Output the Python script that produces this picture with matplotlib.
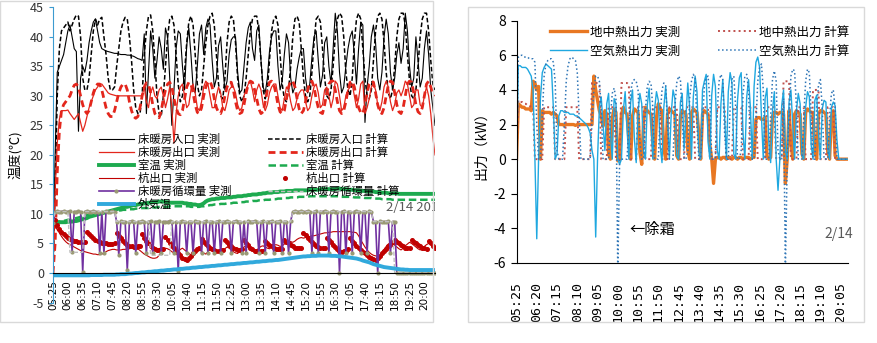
"""
Floor heating trial 2/14: water / room temperatures (left) and heat source output (right)
"""
import numpy as np
import matplotlib.pyplot as plt
from matplotlib.patches import Rectangle

plt.rcParams['font.family'] = ['Noto Sans CJK JP', 'DejaVu Sans']
plt.rcParams['axes.unicode_minus'] = False

# ---- 5 min samples, 05:25 .. 20:25 ----
left_ticks = ['05:25', '06:00', '06:35', '07:10', '07:45', '08:20', '08:55', '09:30', '10:05',
              '10:40', '11:15', '11:50', '12:25', '13:00', '13:35', '14:10', '14:45', '15:20',
              '15:55', '16:30', '17:05', '17:40', '18:15', '18:50', '19:25', '20:00']
right_ticks = ['05:25', '06:20', '07:15', '08:10', '09:05', '10:00', '10:55', '11:50', '12:45',
               '13:40', '14:35', '15:30', '16:25', '17:20', '18:15', '19:10', '20:05']

# floor heating inlet, measured / calculated
inlet_meas = [0, 20, 34, 35, 36, 37, 39, 41, 42, 40, 38, 37.5,
              24, 33, 35, 34, 36, 39, 41, 42.5, 43, 41, 39, 38,
              37.8, 37.6, 37.5, 37.4, 37.3, 37.2, 37.2, 37.1, 37.0, 37.0, 37.0, 36.9,
              36.9, 36.8, 36.7, 36.5, 36.3, 36.2, 36.0, 40.5, 27.0, 34.0, 41.0, 38.0,
              33.0, 36.0, 40.0, 38.0, 34.5, 41.5, 40.0, 33.0, 25.0, 31.0, 38.0, 41.0,
              40.5, 35.0, 31.0, 38.5, 41.5, 37.0, 31.5, 30.5, 35.0, 40.5, 42.0, 37.0,
              41.5, 43.0, 42.0, 36.0, 31.5, 33.0, 38.5, 40.0, 35.0, 31.0, 32.5, 37.0,
              39.5, 40.0, 40.0, 34.0, 30.5, 31.0, 35.0, 39.0, 41.5, 42.5, 38.0, 36.0,
              41.0, 42.0, 36.0, 31.5, 30.5, 33.0, 37.5, 40.0, 41.0, 41.0, 35.0, 31.0,
              32.5, 37.0, 40.5, 39.0, 33.0, 30.5, 31.5, 34.5, 36.5, 38.0, 38.0, 33.0,
              30.5, 32.0, 36.5, 40.0, 41.0, 36.0, 31.5, 33.5, 39.0, 40.0, 35.0, 32.0,
              38.0, 44.0, 41.0, 34.0, 30.5, 31.5, 35.0, 38.0, 40.0, 41.0, 37.0, 32.0,
              38.0, 42.5, 42.0, 25.5, 31.5, 35.0, 40.0, 42.0, 39.0, 33.0, 31.0, 34.0,
              40.0, 43.0, 40.5, 34.0, 31.0, 33.0, 37.0, 39.0, 35.5, 38.0, 44.0, 41.0,
              35.0, 31.5, 33.0, 40.0, 36.0, 31.5, 33.0, 38.0, 41.0, 37.0, 31.0, 28.0,
              25.0]
inlet_calc = [0, 14, 30, 38, 41, 41.5, 42, 42.5, 41, 42, 43, 43.7,
              43.5, 40, 33, 31, 31, 33, 37, 41, 43, 42, 43, 43.3,
              40, 37, 33, 31, 31, 31.5, 35, 38, 41, 42.5, 43.3, 43,
              40, 36, 31, 28, 27, 27, 30, 37, 41, 43.5, 43.7, 41,
              36, 30, 27, 26.5, 30, 35, 40, 43, 43.5, 42, 37, 32,
              29, 30, 34, 39, 42.5, 43.5, 42, 37, 32, 30, 31, 35,
              39, 42, 43.5, 44, 42, 37, 32, 30, 29.5, 33, 39, 42.5,
              43.5, 43, 39, 33, 30, 29, 30, 33, 37, 41, 43, 43.5,
              43.5, 41, 36, 31, 29.5, 31, 36, 41, 43, 43.5, 42, 37,
              32, 29.5, 29, 31, 35, 40, 43, 43.5, 42.5, 38, 33, 30,
              29, 30, 34, 39, 43, 43.5, 42.5, 38, 33, 30, 29.5, 31,
              35, 40, 43, 44, 43.5, 40, 34, 31, 30, 33, 39, 43,
              44, 43, 38, 33, 30, 29.5, 31, 36, 41, 43.5, 44, 43,
              39, 34, 30.5, 29.5, 31, 35, 40, 43, 44, 44, 42, 37,
              32.5, 30, 29.5, 31, 35, 40, 43, 44, 44, 41, 36, 32,
              31]

# floor heating outlet, measured / calculated
outlet_meas = [0, 14, 22, 26, 27.5, 27.5, 27.5, 27.6, 27, 26.5, 26, 26.5,
               27, 25.5, 24, 25, 26.5, 28, 29, 30, 31, 31.5, 32, 32,
               31.5, 31, 30.5, 30.3, 30.2, 30.1, 30, 30, 30, 30, 30, 30,
               30, 30, 30, 30, 30, 30, 30, 31.5, 29, 28, 30.5, 31.5,
               30, 29.5, 31, 31.5, 30, 28, 29.5, 31.5, 28, 22, 27, 30,
               31.5, 32, 30, 28, 28.5, 31, 32, 30.5, 28, 27.5, 29, 31.5,
               32.5, 32, 30, 28, 28, 30, 31.5, 30.5, 28, 27.5, 29, 31,
               31.5, 31.5, 30.5, 28.5, 27.5, 28, 30, 31, 32, 32.5, 31, 29,
               31, 32, 31, 28.5, 27.5, 28.5, 30.5, 31.5, 32, 32, 30, 28,
               27.5, 29.5, 31.5, 31, 29, 27.5, 28, 29.5, 30.5, 31, 31, 29,
               27.5, 28, 30, 31.5, 32, 30.5, 28, 28.5, 31, 31.5, 30, 28,
               29.5, 32.5, 32, 30, 27.5, 28, 30, 31, 31.5, 32, 30, 28,
               29.5, 32, 32.5, 27, 28, 29.5, 31.5, 32, 31, 28.5, 27.5, 29,
               31.5, 32.5, 31.5, 29, 27.5, 28.5, 30.5, 31, 30, 31, 32.5, 32,
               30, 28, 28.5, 31, 31, 28.5, 28, 30, 31.5, 30, 27, 23,
               20]
outlet_calc = [0, 5, 17, 24, 27.5, 28.5, 29, 29.5, 30, 31, 31.8, 32,
               31.5, 30, 28.5, 27.5, 27, 27.5, 29, 30.5, 31.5, 32, 32, 31,
               29.5, 28, 27, 26.5, 26.5, 27.5, 29, 30.5, 31.5, 32, 32, 31,
               29, 27.5, 26.5, 26.2, 26.5, 28, 30, 31.5, 32.2, 32, 30.5, 28.5,
               27, 26.5, 26.3, 27.5, 29.5, 31, 32, 32.3, 31.5, 29.5, 28, 27,
               26.8, 27.5, 29.5, 31.5, 32.3, 32, 30.5, 28.5, 27.2, 27, 28, 30,
               31.5, 32.3, 32.5, 31.5, 29.5, 28, 27.2, 27, 28, 30, 31.5, 32.3,
               32.3, 31, 29, 27.5, 27, 27.2, 28.5, 30.5, 32, 32.5, 32.3, 31,
               29.5, 27.8, 27, 27.3, 29, 31, 32.3, 32.5, 32, 30.5, 28.5, 27.3,
               27, 27.5, 29.5, 31.5, 32.5, 32.5, 31.5, 29.5, 27.8, 27, 27.5, 29,
               31, 32.3, 32.5, 31.5, 29.5, 28, 27.2, 27, 28.5, 30.5, 32, 32.5,
               32.5, 31, 29, 27.5, 27, 27.5, 29, 31, 32.3, 32.5, 31.5, 29.5,
               28, 27.2, 27, 28.5, 30.5, 32, 32.5, 32.3, 30.5, 28.5, 27.3, 27,
               28, 30, 31.8, 32.5, 32.3, 30.5, 28.5, 27.3, 27, 28, 30, 32,
               32.5, 32.3, 30.5, 28.5, 27.3, 27, 28, 30, 32, 32.5, 31.5, 30.5,
               30]

# room temperature
room_meas = [8.6, 8.6, 8.6, 8.6, 8.6, 8.6, 8.6, 8.7, 8.7, 8.7, 8.8, 8.8,
             8.9, 9.0, 9.1, 9.2, 9.3, 9.5, 9.6, 9.7, 9.8, 9.9, 10.0, 10.1,
             10.2, 10.3, 10.4, 10.5, 10.6, 10.7, 10.8, 10.9, 11.0, 11.1, 11.2, 11.2,
             11.3, 11.4, 11.5, 11.5, 11.6, 11.7, 11.7, 11.8, 11.8, 11.9, 11.9, 12.0,
             12.0, 12.0, 12.1, 12.1, 12.1, 12.0, 12.0, 11.9, 11.9, 11.9, 11.9, 11.9,
             11.9, 11.9, 11.8, 11.8, 11.7, 11.7, 11.6, 11.6, 11.5, 11.5, 11.6, 11.8,
             12.1, 12.3, 12.4, 12.5, 12.5, 12.6, 12.6, 12.7, 12.7, 12.7, 12.8, 12.8,
             12.8, 12.9, 12.9, 13.0, 13.0, 13.0, 13.1, 13.1, 13.2, 13.2, 13.3, 13.3,
             13.3, 13.4, 13.4, 13.5, 13.5, 13.6, 13.6, 13.6, 13.7, 13.7, 13.7, 13.8,
             13.8, 13.8, 13.9, 13.9, 13.9, 13.9, 14.0, 14.0, 14.0, 14.0, 14.0, 14.0,
             14.0, 14.1, 14.1, 14.1, 14.1, 14.1, 14.2, 14.2, 14.2, 14.2, 14.2, 14.2,
             14.2, 14.2, 14.3, 14.3, 14.2, 14.2, 14.2, 14.1, 14.1, 14.1, 14.0, 14.0,
             14.0, 13.9, 13.9, 13.9, 13.8, 13.8, 13.8, 13.8, 13.7, 13.7, 13.7, 13.6,
             13.6, 13.6, 13.5, 13.5, 13.5, 13.5, 13.5, 13.4, 13.4, 13.4, 13.4, 13.4,
             13.4, 13.4, 13.4, 13.4, 13.4, 13.4, 13.4, 13.4, 13.4, 13.4, 13.4, 13.4,
             13.4]
room_calc = [8.6, 8.6, 8.7, 8.7, 8.8, 8.8, 8.9, 9.0, 9.0, 9.1, 9.2, 9.3,
             9.4, 9.5, 9.6, 9.7, 9.8, 9.9, 10.0, 10.1, 10.1, 10.2, 10.2, 10.3,
             10.3, 10.4, 10.4, 10.5, 10.5, 10.5, 10.6, 10.6, 10.6, 10.7, 10.7, 10.7,
             10.8, 10.8, 10.8, 10.9, 10.9, 10.9, 11.0, 11.0, 11.0, 11.0, 11.1, 11.1,
             11.1, 11.1, 11.2, 11.2, 11.2, 11.2, 11.2, 11.3, 11.3, 11.3, 11.3, 11.3,
             11.3, 11.3, 11.3, 11.3, 11.3, 11.2, 11.2, 11.2, 11.2, 11.2, 11.3, 11.3,
             11.4, 11.4, 11.5, 11.5, 11.6, 11.6, 11.6, 11.7, 11.7, 11.7, 11.8, 11.8,
             11.8, 11.9, 11.9, 11.9, 12.0, 12.0, 12.0, 12.1, 12.1, 12.1, 12.2, 12.2,
             12.2, 12.3, 12.3, 12.3, 12.4, 12.4, 12.4, 12.5, 12.5, 12.5, 12.6, 12.6,
             12.6, 12.7, 12.7, 12.7, 12.8, 12.8, 12.8, 12.8, 12.9, 12.9, 12.9, 12.9,
             12.9, 13.0, 13.0, 13.0, 13.0, 13.0, 13.0, 13.0, 13.0, 13.0, 13.0, 13.0,
             13.0, 13.0, 13.0, 13.0, 12.9, 12.9, 12.9, 12.9, 12.9, 12.9, 12.8, 12.8,
             12.8, 12.8, 12.8, 12.7, 12.7, 12.7, 12.7, 12.6, 12.6, 12.6, 12.6, 12.5,
             12.5, 12.5, 12.5, 12.5, 12.4, 12.4, 12.4, 12.4, 12.4, 12.4, 12.4, 12.4,
             12.4, 12.4, 12.4, 12.4, 12.4, 12.4, 12.4, 12.4, 12.4, 12.4, 12.4, 12.4,
             12.4]

# ground pile outlet
pile_meas = [8.5, 8.0, 7.3, 6.8, 6.2, 5.7, 5.3, 5.0, 4.8, 4.6, 4.4, 4.2,
             4.0, 3.8, 3.7, 3.6, 3.5, 3.4, 3.3, 3.2, 3.2, 3.1, 3.1, 3.2,
             3.4, 3.6, 3.8, 3.9, 4.0, 4.0, 3.9, 3.9, 3.9, 4.0, 4.0, 4.1,
             4.1, 4.2, 4.2, 4.2, 4.1, 3.8, 3.5, 3.2, 3.0, 2.8, 2.6, 2.5,
             2.5, 2.6, 3.0, 3.5, 4.0, 4.2, 4.1, 3.9, 3.6, 3.4, 3.3, 3.6,
             4.0, 4.2, 3.9, 3.6, 3.3, 3.1, 3.5, 3.9, 4.2, 4.0, 3.7, 3.4,
             3.2, 3.6, 4.0, 4.3, 4.1, 3.8, 3.5, 3.3, 3.7, 4.1, 4.4, 4.2,
             3.9, 3.6, 3.4, 3.3, 3.7, 4.1, 4.4, 4.6, 4.4, 4.1, 3.8, 3.7,
             3.9, 4.2, 4.5, 4.6, 4.4, 4.2, 4.1, 4.3, 4.6, 4.8, 4.7, 4.5,
             4.6, 4.9, 5.2, 5.4, 5.3, 5.2, 5.4, 5.7, 5.9, 6.0, 5.9, 6.0,
             6.1, 6.2, 6.3, 6.3, 6.4, 6.5, 6.6, 6.7, 6.8, 6.8, 6.9, 6.9,
             7.0, 7.0, 7.0, 7.0, 7.0, 7.0, 7.0, 7.0, 7.0, 6.9, 6.9, 6.8,
             6.3, 5.6, 5.0, 4.4, 3.9, 3.5, 3.2, 3.0, 2.9, 2.8, 3.0, 3.5,
             4.0, 4.5, 4.9, 5.2, 5.0, 4.7, 4.4, 4.1, 3.9, 4.2, 4.6, 4.9,
             5.2, 5.0, 4.7, 4.4, 4.1, 3.9, 4.2, 4.5, 4.8, 5.0, 4.8, 4.5,
             4.3]
pile_calc = [8.5, 9.0, 8.2, 7.5, 7.0, 6.6, 6.3, 6.0, 5.8, 5.6, 5.5, 5.4,
             5.3, 5.3, 5.2, 5.2, 7.0, 6.6, 6.2, 5.9, 5.6, 5.4, 5.2, 5.1,
             5.0, 5.0, 4.9, 4.9, 4.9, 5.0, 6.8, 6.3, 5.9, 5.5, 5.1, 4.8,
             4.6, 4.5, 4.4, 4.4, 4.5, 4.5, 6.6, 6.0, 5.5, 5.0, 4.6, 4.3,
             4.1, 3.9, 3.9, 4.0, 4.0, 6.1, 5.6, 5.1, 4.6, 4.2, 3.8, 3.4,
             3.0, 2.6, 2.3, 2.2, 2.5, 2.9, 3.3, 3.7, 4.0, 4.3, 5.8, 5.3,
             4.9, 4.5, 4.2, 4.0, 3.9, 3.8, 3.8, 3.9, 3.9, 5.6, 5.2, 4.8,
             4.5, 4.2, 4.0, 3.9, 3.9, 4.0, 5.6, 5.1, 4.7, 4.3, 4.0, 3.8,
             3.7, 3.6, 3.7, 3.8, 5.4, 5.1, 4.8, 4.5, 4.3, 4.1, 4.0, 4.0,
             4.1, 5.6, 5.3, 5.0, 4.7, 4.5, 4.3, 4.2, 4.2, 4.3, 6.8, 6.5,
             6.0, 5.6, 5.2, 4.9, 4.6, 4.4, 4.2, 4.2, 4.3, 6.0, 5.6, 5.2,
             4.8, 4.4, 4.0, 3.7, 3.6, 3.7, 3.8, 4.0, 5.9, 5.5, 5.0, 4.6,
             4.2, 3.9, 3.6, 3.3, 3.0, 2.7, 2.5, 2.3, 2.2, 2.5, 2.9, 3.3,
             3.7, 4.1, 4.5, 4.8, 5.2, 5.6, 5.3, 5.0, 4.7, 4.5, 4.3, 4.2,
             4.2, 5.6, 5.3, 5.0, 4.7, 4.5, 4.3, 4.2, 4.1, 5.4, 5.0, 4.6,
             4.3]

# floor heating flow rate
flow_meas = [8.5, 10.4, 10.5, 10.4, 10.4, 10.5, 10.4, 10.4, 10.5, 3.5, 10.4, 10.4,
             10.5, 10.4, 0.2, 10.4, 10.5, 10.4, 10.4, 10.5, 10.4, 10.4, 3.3, 10.4,
             3.3, 10.5, 10.4, 10.4, 10.5, 10.4, 8.7, 3.0, 8.8, 8.7, 8.7, 0.5,
             8.7, 8.8, 8.7, 3.3, 8.7, 8.7, 8.8, 8.7, 3.3, 8.7, 8.8, 3.3,
             8.7, 8.7, 8.8, 3.3, 8.7, 8.7, 8.7, 8.8, 8.7, 3.3, 8.7, 0.3,
             8.7, 8.8, 8.7, 3.3, 8.7, 8.7, 3.3, 8.8, 8.7, 8.7, 3.3, 8.7,
             8.8, 3.3, 8.7, 8.7, 3.3, 8.7, 8.8, 3.3, 8.7, 8.7, 8.8, 8.7,
             3.3, 8.7, 8.8, 8.7, 8.7, 3.3, 8.7, 3.3, 8.8, 8.7, 8.7, 8.8,
             8.7, 3.3, 8.7, 8.8, 3.3, 8.7, 8.7, 8.8, 3.3, 8.7, 8.7, 8.8,
             3.3, 8.7, 8.7, 3.3, 8.8, 10.4, 10.5, 10.4, 10.4, 10.5, 10.4, 10.4,
             10.5, 10.4, 3.3, 10.4, 10.5, 3.3, 10.4, 10.4, 10.5, 10.4, 3.3, 10.4,
             10.5, 10.4, 10.4, 0.0, 10.4, 10.5, 3.3, 10.4, 10.4, 3.3, 10.4, 10.5,
             10.4, 3.3, 10.4, 10.4, 3.3, 10.5, 10.4, 8.7, 8.7, 0.0, 8.8, 8.7,
             8.7, 8.7, 8.8, 3.3, 8.7, 8.7, 0.0, 0.0, 0.0, 0.0, 0.0, 0.0,
             0.0, 0.0, 0.0, 0.0, 0.0, 0.0, 0.0, 0.0, 0.0, 0.0, 0.0, 0.0,
             0.0]
flow_calc = [8.5, 10.4, 10.4, 10.4, 10.4, 10.4, 10.4, 10.4, 3.5, 3.5, 3.5, 3.5,
             3.5, 3.5, 3.5, 10.4, 10.4, 10.4, 10.4, 10.4, 10.4, 10.4, 10.4, 10.4,
             10.4, 10.4, 10.4, 10.4, 10.4, 10.4, 8.7, 8.7, 8.7, 8.7, 8.7, 8.7,
             8.7, 8.7, 8.7, 8.7, 8.7, 8.7, 8.7, 8.7, 8.7, 8.7, 3.0, 3.0,
             3.0, 3.0, 3.0, 3.0, 3.0, 3.0, 3.0, 3.0, 8.7, 8.7, 8.7, 8.7,
             8.7, 8.7, 8.7, 8.7, 8.7, 8.7, 8.7, 8.7, 8.7, 8.7, 8.7, 8.7,
             8.7, 8.7, 8.7, 8.7, 8.7, 8.7, 8.7, 8.7, 8.7, 8.7, 8.7, 8.7,
             8.7, 8.7, 8.7, 8.7, 8.7, 8.7, 8.7, 8.7, 8.7, 8.7, 8.7, 8.7,
             8.7, 8.7, 8.7, 8.7, 8.7, 8.7, 8.7, 8.7, 8.7, 8.7, 8.7, 8.7,
             8.7, 8.7, 8.7, 8.7, 8.7, 10.4, 10.4, 10.4, 10.4, 10.4, 10.4, 10.4,
             10.4, 10.4, 10.4, 10.4, 10.4, 10.4, 10.4, 10.4, 10.4, 10.4, 10.4, 10.4,
             10.4, 10.4, 10.4, 10.4, 10.4, 10.4, 10.4, 10.4, 10.4, 10.4, 10.4, 10.4,
             10.4, 10.4, 10.4, 10.4, 10.4, 10.4, 10.4, 8.7, 8.7, 8.7, 8.7, 8.7,
             8.7, 8.7, 8.7, 8.7, 8.7, 0.0, 0.0, 0.0, 0.0, 0.0, 0.0, 0.0,
             0.0, 0.0, 0.0, 0.0, 0.0, 0.0, 0.0, 0.0, 0.0, 0.0, 0.0, 0.0,
             0.0]

# outdoor air
outdoor = [-0.4, -0.4, -0.4, -0.4, -0.4, -0.4, -0.4, -0.4, -0.4, -0.4, -0.4, -0.4,
           -0.4, -0.4, -0.4, -0.4, -0.4, -0.4, -0.35, -0.35, -0.35, -0.35, -0.35, -0.35,
           -0.3, -0.3, -0.3, -0.3, -0.3, -0.3, -0.25, -0.25, -0.2, -0.2, -0.2, -0.15,
           -0.1, -0.1, -0.05, 0.0, 0.0, 0.05, 0.1, 0.1, 0.15, 0.2, 0.2, 0.25,
           0.3, 0.3, 0.35, 0.4, 0.4, 0.45, 0.5, 0.5, 0.55, 0.6, 0.6, 0.65,
           0.7, 0.7, 0.75, 0.8, 0.8, 0.85, 0.9, 0.9, 0.95, 1.0, 1.0, 1.05,
           1.1, 1.1, 1.15, 1.2, 1.2, 1.25, 1.3, 1.3, 1.35, 1.4, 1.4, 1.45,
           1.5, 1.5, 1.55, 1.6, 1.6, 1.65, 1.7, 1.7, 1.75, 1.8, 1.8, 1.85,
           1.9, 1.9, 1.95, 2.0, 2.0, 2.05, 2.1, 2.1, 2.15, 2.2, 2.2, 2.25,
           2.3, 2.35, 2.4, 2.45, 2.5, 2.55, 2.6, 2.65, 2.7, 2.75, 2.8, 2.8,
           2.85, 2.85, 2.9, 2.9, 2.9, 2.95, 2.95, 2.95, 2.95, 2.95, 2.95, 2.9,
           2.9, 2.9, 2.85, 2.8, 2.8, 2.75, 2.7, 2.65, 2.6, 2.55, 2.5, 2.45,
           2.35, 2.25, 2.1, 2.0, 1.9, 1.8, 1.65, 1.5, 1.4, 1.3, 1.2, 1.1,
           1.0, 0.95, 0.9, 0.85, 0.8, 0.75, 0.7, 0.65, 0.6, 0.6, 0.55, 0.55,
           0.5, 0.5, 0.5, 0.5, 0.5, 0.5, 0.5, 0.5, 0.5, 0.5, 0.5, 0.5,
           0.5]

# heat output (kW): ground source / air source, measured and calculated
ground_meas = [0.0, 3.2, 3.1, 3.0, 3.0, 2.9, 2.9, 2.9, 2.8, 4.5, 4.4, 4.0,
               4.2, 0.0, 2.8, 2.7, 2.7, 2.7, 2.7, 2.6, 2.7, 2.6, 2.5, 2.0,
               2.0, 2.0, 1.95, 2.0, 2.0, 2.0, 2.0, 2.0, 1.95, 2.0, 2.0, 2.0,
               2.0, 2.0, 2.0, 2.0, 2.0, 2.0, 4.8, 4.0, 3.4, 2.8, 2.5, 1.9,
               2.8, 2.6, 0.3, 0.0, 2.4, 2.9, 2.7, -0.1, 0.0, 2.6, 3.0, 2.7,
               2.6, 1.2, 0.0, 2.5, 2.9, 2.8, 2.7, 0.4, -0.3, 2.2, 3.0, 2.8,
               2.7, 2.6, 1.0, 0.0, 2.4, 3.2, 2.9, 2.8, 0.6, 0.0, 2.6, 2.9,
               2.8, 2.7, 2.6, 0.2, 0.0, 2.5, 2.8, 2.7, 2.6, 0.5, 0.0, 2.7,
               2.9, 2.8, 2.7, 1.5, 0.0, 2.6, 2.8, 2.7, 2.6, 0.8, 0.0, -1.4,
               0.0, 0.1, 0.1, 0.0, 0.1, 0.1, 0.0, 0.1, 0.1, 0.0, 0.1, 0.1,
               0.0, 0.1, 0.1, 0.0, 0.1, 0.1, 0.1, 0.0, 0.1, 0.1, 2.3, 2.4,
               2.4, 2.3, 2.3, 2.4, 0.2, 0.0, 0.1, 2.5, 2.7, 2.7, 2.6, 2.7,
               2.7, 2.6, -1.4, 0.0, 2.8, 1.0, 0.0, 2.6, 2.8, 2.7, 2.6, 0.3,
               0.0, 2.7, 2.9, 2.8, 2.7, 2.7, 0.5, 0.0, 2.6, 2.8, 2.8, 2.7,
               2.6, 0.4, 0.0, 2.5, 2.8, 0.2, 0.0, 0.0, 0.0, 0.0, 0.0, 0.0,
               0.0]
ground_calc = [0.0, 3.4, 3.3, 3.3, 3.2, 3.2, 3.1, 3.1, 3.0, 3.0, 0.0, 0.0,
               0.0, 0.0, 0.0, 3.0, 3.0, 3.0, 3.0, 3.0, 3.0, 0.0, 0.0, 0.0,
               0.0, 0.0, 0.0, 3.0, 3.0, 3.0, 3.0, 3.0, 3.0, 3.0, 0.0, 0.0,
               0.0, 0.0, 0.0, 0.0, 0.0, 4.4, 4.4, 4.4, 4.4, 4.3, 0.0, 0.0,
               0.0, 0.0, 3.0, 3.0, 3.0, 3.0, 0.0, 0.0, 0.0, 4.4, 4.4, 4.4,
               4.4, 4.3, 0.0, 0.0, 0.0, 0.0, 3.0, 3.0, 3.0, 3.0, 0.0, 0.0,
               0.0, 0.0, 3.0, 3.0, 3.0, 3.0, 3.0, 0.0, 0.0, 0.0, 0.0, 3.0,
               3.0, 3.0, 3.0, 3.0, 0.0, 0.0, 0.0, 0.0, 3.0, 3.0, 3.0, 3.0,
               3.0, 0.0, 0.0, 0.0, 0.0, 3.0, 3.0, 3.0, 3.0, 0.0, 0.0, 0.0,
               0.0, 3.0, 3.0, 3.0, 3.0, 3.0, 0.0, 0.0, 0.0, 0.0, 3.0, 3.0,
               3.0, 3.0, 3.0, 0.0, 0.0, 0.0, 0.0, 3.0, 3.0, 3.0, 3.0, 0.0,
               0.0, 0.0, 0.0, 0.0, 3.0, 3.0, 3.0, 3.0, 3.0, 0.0, 0.0, 0.0,
               0.0, 4.5, 4.5, 4.5, 4.5, 0.0, 0.0, 0.0, 0.0, 3.0, 3.0, 3.0,
               3.0, 0.0, 0.0, 0.0, 0.0, 4.0, 4.0, 4.0, 4.0, 0.0, 0.0, 0.0,
               0.0, 3.0, 3.0, 3.0, 3.0, 0.0, 0.0, 0.0, 0.0, 0.0, 0.0, 0.0,
               0.0]
air_meas = [0.0, 5.4, 5.4, 5.3, 5.3, 5.3, 5.2, 5.0, 4.8, 4.0, 0.0, -4.6,
            0.0, 3.5, 5.0, 5.3, 5.5, 5.4, 5.3, 5.2, 3.0, 0.0, 0.3, 2.5,
            2.8, 2.8, 2.7, 2.7, 2.7, 2.6, 2.6, 2.6, 2.5, 2.5, 2.4, 2.3,
            2.2, 2.1, 2.0, 1.8, 1.5, 0.5, 0.0, -4.5, 0.0, 3.0, 3.6, 2.0,
            0.5, 3.2, 3.8, 1.5, 0.0, 3.5, 3.2, 0.0, -0.3, 0.0, 2.8, 3.9,
            1.8, 0.0, 3.3, 4.0, 1.2, -0.2, 2.7, 3.8, 3.2, 0.5, 0.0, 3.1,
            4.1, 2.2, 0.0, 2.9, 3.9, 3.4, 0.8, -0.2, 3.0, 4.2, 2.5, 0.0,
            2.6, 4.0, 3.5, 0.2, 0.0, 3.3, 3.8, 0.6, 2.4, 4.4, 3.0, 0.0,
            3.6, 4.8, 3.9, 0.4, 0.0, 4.0, 4.5, 4.9, 1.0, 0.0, 3.7, 4.9,
            4.2, 0.5, 0.0, 3.2, 4.6, 2.5, 0.0, 3.9, 5.0, 4.4, 0.3, 0.0,
            3.4, 4.7, 5.0, 1.5, 0.0, 3.6, 4.6, 3.0, 0.0, 4.2, 5.6, 5.9,
            5.3, 2.5, 0.0, 3.5, 4.1, 1.0, -0.2, 2.8, 3.9, 0.0, -1.8, 0.0,
            3.1, 4.0, 0.5, 0.0, 3.3, 4.0, 2.0, 0.0, 2.8, 3.8, 3.2, 0.2,
            0.0, 3.0, 3.9, 3.6, 0.8, 0.0, 3.4, 3.7, 1.5, 0.0, 2.9, 3.4,
            3.3, 0.6, 0.0, 3.0, 3.3, 3.1, 1.1, 0.0, 0.0, 0.0, 0.0, 0.0,
            0.0]
air_calc = [0.0, 5.9, 6.0, 6.0, 5.9, 5.9, 5.9, 5.8, 5.8, 5.8, 5.6, 2.0,
            0.0, 0.0, 2.5, 4.8, 5.5, 5.7, 5.8, 5.8, 5.6, 4.5, 0.5, 0.0,
            0.0, 0.0, 2.0, 4.5, 5.4, 5.8, 5.9, 5.8, 5.7, 5.0, 2.5, 0.0,
            0.0, 0.0, 0.0, 0.0, 0.0, 2.2, 4.0, 4.8, 4.8, 4.5, 3.0, 0.0,
            0.0, 0.0, 0.0, 2.5, 3.8, 4.1, 3.5, -6.5, 0.0, 0.0, 0.0, 0.0,
            0.0, 2.0, 3.9, 4.5, 4.6, 4.5, 4.0, 1.0, 0.0, 0.0, 2.8, 4.2,
            4.5, 4.4, 3.0, 0.0, 0.0, 0.0, 2.5, 4.0, 4.4, 4.3, 2.0, 0.0,
            0.0, 0.0, 3.0, 4.4, 4.8, 4.6, 2.5, 0.0, 0.0, 0.5, 3.5, 4.5,
            4.9, 4.7, 2.0, 0.0, 0.0, 2.0, 4.2, 4.7, 4.8, 3.5, 0.0, 0.0,
            0.0, 2.8, 4.5, 4.9, 4.6, 1.5, 0.0, 0.0, 3.0, 4.6, 4.8, 3.0,
            0.0, 0.0, 0.5, 3.8, 4.8, 4.9, 4.0, 0.5, 0.0, 0.0, 2.0, 4.5,
            5.3, 5.5, 4.0, 0.0, 0.0, 0.0, 2.5, 4.6, 5.1, 4.5, 0.5, 0.0,
            0.0, 3.5, -6.5, 0.0, 2.5, 4.8, 5.2, 5.1, 3.0, 0.0, 0.0, 0.0,
            2.5, 4.5, 5.2, 5.0, 2.5, 0.0, 0.0, 3.0, 4.3, 4.6, 3.0, 0.0,
            0.0, 0.0, 2.5, 3.8, 4.0, 3.0, 0.0, 0.0, 0.0, 0.0, 0.0, 0.0,
            0.0]


def slot(label):
    h, m = map(int, label.split(':'))
    return (h * 60 + m - (5 * 60 + 25)) // 5


def idx(series):
    return np.arange(len(series))


W, H = 878, 343
fig = plt.figure(figsize=(W / 100, H / 100), dpi=100)


def frac(x0, y0, x1, y1):
    return [x0 / W, 1 - y1 / H, (x1 - x0) / W, (y1 - y0) / H]


# chart area borders
for x0, y0, x1, y1 in [(0.5, 0.5, 433, 322), (468, 7, 864, 322)]:
    fig.add_artist(Rectangle((x0 / W, 1 - y1 / H), (x1 - x0) / W, (y1 - y0) / H,
                             transform=fig.transFigure, fill=False, ec='#D9D9D9', lw=1))

# ================= left: temperatures =================
ax1 = fig.add_axes(frac(53, 7.3, 435, 302.5))
# move the x axis up to 0 first: set_position resets the tick labels
ax1.spines['bottom'].set_position(('data', 0))
ax1.spines['bottom'].set_color('black')
red, dred, green, cyan = '#E3261C', '#C00000', '#1DAA4F', '#31A9DC'

l1, = ax1.plot(idx(inlet_meas), inlet_meas, color='black', lw=0.8, label='床暖房入口 実測')
l2, = ax1.plot(idx(inlet_calc), inlet_calc, color='black', lw=1.1, dashes=(3, 1.6), label='床暖房入口 計算')
l3, = ax1.plot(idx(outlet_meas), outlet_meas, color=red, lw=0.9, label='床暖房出口 実測')
l4, = ax1.plot(idx(outlet_calc), outlet_calc, color=red, lw=2.0, dashes=(2.5, 1.5), label='床暖房出口 計算')
l5, = ax1.plot(idx(room_meas), room_meas, color=green, lw=2.8, label='室温 実測')
l6, = ax1.plot(idx(room_calc), room_calc, color=green, lw=1.8, dashes=(3, 1.5), label='室温 計算')
l7, = ax1.plot(idx(pile_meas), pile_meas, color=dred, lw=0.8, label='杭出口 実測')
l8, = ax1.plot(idx(pile_calc), pile_calc, ls='none', marker='o', ms=2.6, color=dred, label='杭出口 計算')
l9, = ax1.plot(idx(flow_meas), flow_meas, color='#7030A0', lw=1.2, marker='o', ms=2.0,
               mfc='#9A9A74', mec='#9A9A74', label='床暖房循環量 実測')
l10, = ax1.plot(idx(flow_calc), flow_calc, color='#BFBFBF', lw=1.0, dashes=(3, 1.5), label='床暖房循環量 計算')
l11, = ax1.plot(idx(outdoor), outdoor, color=cyan, lw=2.8, label='外気温')

ax1.set_xlim(0, 180)
ax1.set_ylim(-5, 45)
ax1.set_yticks(np.arange(-5, 46, 5))
ax1.set_xticks([slot(t) for t in left_ticks])
ax1.set_xticklabels(left_ticks, rotation=90, fontsize=7.5, family='DejaVu Sans')
ax1.tick_params(axis='x', length=0, pad=5)
ax1.tick_params(axis='y', length=3, color='#3C9BD0', labelsize=9, labelcolor='#333333')
ax1.spines['top'].set_visible(False)
ax1.spines['right'].set_visible(False)
ax1.spines['left'].set_color('#3C9BD0')
ax1.set_ylabel('温度(℃)', fontsize=9.5, labelpad=6)
ax1.text(156.8, 11.1, '2/14 2017', fontsize=9.5, color='#595959', va='center', clip_on=True)

ax1.legend(handles=[l1, l3, l5, l7, l9, l11, l2, l4, l6, l8, l10], ncol=2,
           loc='upper left', bbox_to_anchor=(0.12, 0.572), frameon=False, fontsize=8.2,
           handlelength=3.1, handletextpad=0.3, labelspacing=0.18, columnspacing=3.2,
           borderpad=0, borderaxespad=0)

# ================= right: heat output =================
ax2 = fig.add_axes(frac(516.5, 20.7, 848, 263))
r1, = ax2.plot(idx(ground_meas), ground_meas, color='#E87722', lw=2.4, label='地中熱出力 実測')
r2, = ax2.plot(idx(ground_calc), ground_calc, color='#C0504D', lw=1.4, ls=':', label='地中熱出力 計算')
r3, = ax2.plot(idx(air_meas), air_meas, color='#1FA8E0', lw=1.0, label='空気熱出力 実測')
r4, = ax2.plot(idx(air_calc), air_calc, color='#2E75B6', lw=1.1, ls=':', label='空気熱出力 計算')

ax2.set_xlim(0, 180)
ax2.set_ylim(-6, 8)
ax2.set_yticks(np.arange(-6, 9, 2))
ax2.set_xticks([slot(t) for t in right_ticks])
ax2.set_xticklabels(right_ticks, rotation=90, fontsize=9.5, family='DejaVu Sans Mono')
ax2.tick_params(axis='x', length=0, pad=14)
ax2.tick_params(axis='y', length=4, labelsize=10)
ax2.spines['top'].set_visible(False)
ax2.spines['right'].set_visible(False)
ax2.set_ylabel('出力（kW）', fontsize=10, labelpad=4)
ax2.text(61.2, -4.05, '←除霜', fontsize=11, va='center')
ax2.text(167.2, -4.33, '2/14', fontsize=10, color='#595959', va='center')

ax2.legend(handles=[r1, r3, r2, r4], ncol=2, loc='upper left', bbox_to_anchor=(0.10, 0.98),
           frameon=False, fontsize=9, handlelength=3.0, handletextpad=0.25,
           labelspacing=0.5, columnspacing=3.0, borderpad=0, borderaxespad=0)

plt.savefig('out.png', dpi=100)
